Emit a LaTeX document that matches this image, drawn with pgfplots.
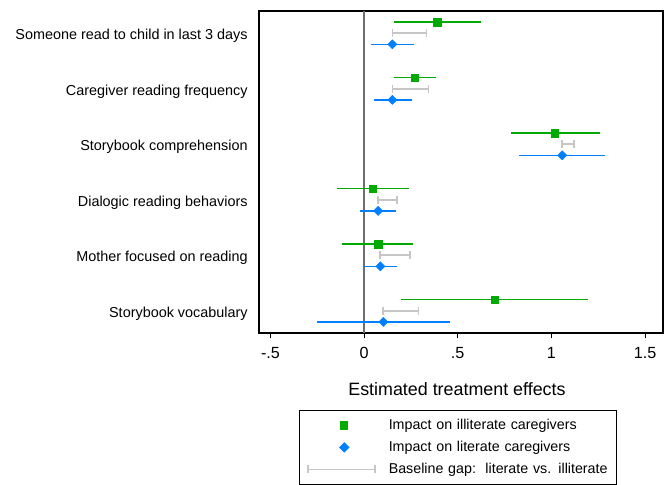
\documentclass[border=0pt]{standalone}
\usepackage{fontspec}
\setmainfont{Liberation Sans}
\usepackage{pgfplots}
\usepackage{pgfplotstable}
\pgfplotsset{compat=1.18}
\definecolor{mygreen}{RGB}{0,170,0}
\definecolor{myblue}{RGB}{0,128,255}
\definecolor{mygray}{RGB}{198,198,198}
\definecolor{zerogray}{RGB}{110,110,110}

\pgfplotsset{
  markleg/.style={legend image code/.code={\path (0pt,0pt) (50pt,0pt); \draw[##1] plot coordinates {(27pt,0pt)};}},
  lineleg/.style={legend image code/.code={\draw[##1] plot coordinates {(0pt,0pt) (50pt,0pt)};}},
}

\pgfplotstableread{
y x lo hi
6.2 0.391 0.160 0.626
5.2 0.272 0.160 0.382
4.2 1.019 0.782 1.257
3.2 0.048 -0.142 0.238
2.2 0.075 -0.116 0.263
1.2 0.697 0.197 1.198
}\illit

\pgfplotstableread{
y x lo hi
5.8 0.151 0.039 0.268
4.8 0.151 0.052 0.254
3.8 1.058 0.828 1.289
2.8 0.075 -0.021 0.169
1.8 0.087 -0.007 0.176
0.8 0.103 -0.251 0.457
}\lit

\begin{document}
\begin{tikzpicture}
\begin{axis}[
  scale only axis, width=303pt, height=241.5pt,
  xmin=-0.561, xmax=1.596, ymin=0.6, ymax=6.4,
  axis line style={line width=1pt, black},
  xtick={-0.5,0,0.5,1,1.5}, xticklabels={-.5,0,.5,1,1.5},
  x tick label style={font=\fontsize{12.1}{14}\selectfont, yshift=-3pt},
  xtick align=outside, xtick pos=left,
  major tick length=4pt,
  x tick style={black, line width=0.6pt},
  ytick={1,2,3,4,5,6},
  yticklabels={Storybook vocabulary, Mother focused on reading, Dialogic reading behaviors, Storybook comprehension, Caregiver reading frequency, Someone read to child in last 3 days},
  y tick style={draw=none},
  y tick label style={font=\fontsize{10.8}{13}\selectfont, xshift=-5pt, yshift=-2pt},
  xlabel={Estimated treatment effects},
  xlabel style={font=\fontsize{13.4}{16}\selectfont, at={(axis description cs:0.49,0)}, anchor=base, yshift=-46.9pt},
  legend cell align=left,
  legend style={at={(0.099,-0.239)}, anchor=north west, draw=black, line width=0.75pt,
    inner xsep=6pt, inner ysep=3pt, column sep=9.75pt, row sep=0pt,
    font=\fontsize{10.7}{13}\selectfont,
    nodes={inner xsep=0pt, inner ysep=3pt, text height=8pt, text depth=2.5pt, text width=165pt}},
]
\addplot[zerogray, line width=0.9pt, forget plot] coordinates {(0,0.6) (0,6.4)};

\addplot[only marks, mark=square*, mark size=2.75pt, color=mygreen, markleg,
  error bars/.cd, x dir=both, x explicit, error mark=none,
  error bar style={line width=1.2pt, mygreen}]
  table[x=x, y=y, x error plus expr=\thisrow{hi}-\thisrow{x}, x error minus expr=\thisrow{x}-\thisrow{lo}] {\illit};
\addlegendentry{Impact on illiterate caregivers}

\addplot[only marks, mark=square*, mark size=2.4pt, mark options={rotate=45}, color=myblue, markleg,
  error bars/.cd, x dir=both, x explicit, error mark=none,
  error bar style={line width=1.2pt, myblue}]
  table[x=x, y=y, x error plus expr=\thisrow{hi}-\thisrow{x}, x error minus expr=\thisrow{x}-\thisrow{lo}] {\lit};
\addlegendentry{Impact on literate caregivers}

\addplot[mygray, line width=1.2pt, mark=|, mark size=3pt, unbounded coords=jump, lineleg]
  coordinates {(0.151,6) (0.333,6) (0.2,nan) (0.151,5) (0.343,5) (0.2,nan)
    (1.058,4) (1.120,4) (0.2,nan) (0.073,3) (0.176,3) (0.2,nan)
    (0.085,2) (0.245,2) (0.2,nan) (0.101,1) (0.290,1)};
\addlegendentry{Baseline gap:\ \ literate vs. illiterate}
\end{axis}
\pgfresetboundingbox
\useasboundingbox (-194.25pt,-114pt) rectangle (306.75pt,249.75pt);
\end{tikzpicture}
\end{document}
